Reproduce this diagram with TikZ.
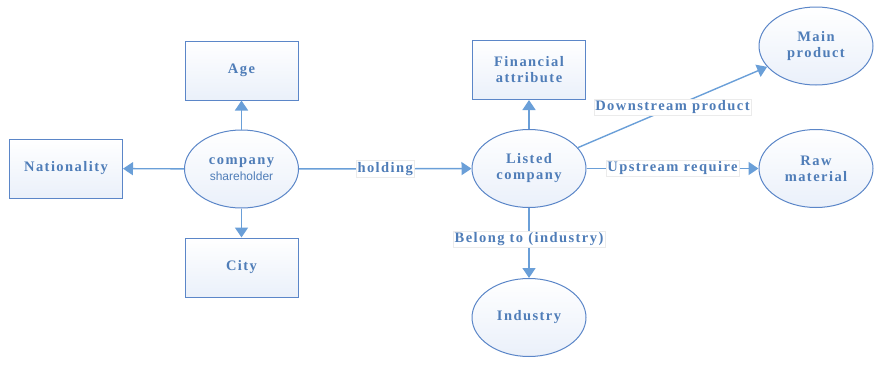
\documentclass[tikz,border=0pt]{standalone}
\usepackage{fontspec}
\setmainfont{Liberation Serif}[LetterSpace=10]
\setsansfont{Liberation Sans}
\usetikzlibrary{arrows.meta,shapes.geometric}
\definecolor{edgeblue}{HTML}{6A9FD8}
\definecolor{boxblue}{HTML}{5B86C8}
\definecolor{txtblue}{HTML}{4F7DB8}
\definecolor{fillblue}{HTML}{EAF0FA}
\tikzset{
  txt/.style={font=\bfseries\fontsize{14.5}{16}\selectfont},
  base/.style={draw=boxblue, line width=1pt, top color=white, bottom color=fillblue, text=txtblue, txt, align=center, inner sep=0pt},
  attrbox/.style={base, rectangle, minimum width=113pt, minimum height=59pt},
  entity/.style={base, ellipse, minimum width=114pt, minimum height=78pt},
  conn/.style={draw=edgeblue, line width=1.4pt, -{Triangle[length=10pt,width=13pt]}},
  lbl/.style={fill=white, draw=black!8, line width=0.4pt, text=txtblue, txt, inner sep=1.5pt}
}
\begin{document}
\begin{tikzpicture}[x=1pt,y=-1pt]
\useasboundingbox (0,0) rectangle (886,367);
\node[attrbox] (age) at (241.5,70.5) {Age};
\node[attrbox] (nat) at (66,168.5) {Nationality};
\node[attrbox] (city) at (241.5,267.5) {City};
\node[entity] (sh) at (241.5,169) {company\\{\mdseries\sffamily\fontsize{12}{12}\selectfont shareholder}};
\node[attrbox] (fin) at (529,70) {Financial\\attribute};
\node[entity] (lc) at (529,168.5) {Listed\\company};
\node[entity] (mp) at (816,46) {Main\\product};
\node[entity] (raw) at (816,168.5) {Raw\\material};
\node[entity] (ind) at (529,317.5) {Industry};
\draw[conn] (sh) -- (age);
\draw[conn] (sh) -- (nat);
\draw[conn] (sh) -- (city);
\draw[conn] (sh) -- node[lbl] {holding} (lc);
\draw[conn] (lc) -- (fin);
\draw[conn] (lc) -- node[lbl] {Downstream product} (mp);
\draw[conn] (lc) -- node[lbl] {Upstream require} (raw);
\draw[conn] (lc) -- node[lbl, pos=0.45] {Belong to (industry)} (ind);
\end{tikzpicture}
\end{document}
